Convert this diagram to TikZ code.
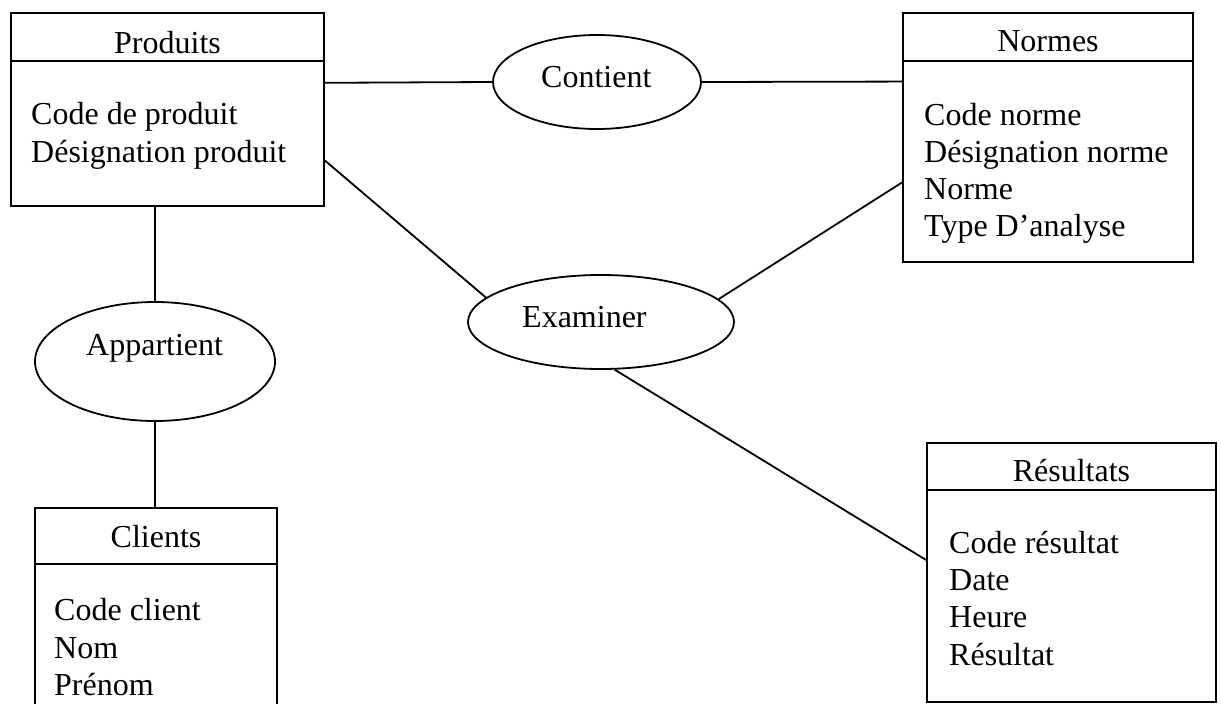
\documentclass[tikz,border=0pt]{standalone}
\usepackage{fontspec}
\setmainfont{Liberation Serif}
\usetikzlibrary{shapes.geometric,calc}

\tikzset{
  entity/.style={draw, line width=1.8pt, rectangle, inner sep=0pt},
  relation/.style={draw, line width=1.8pt, ellipse, inner sep=0pt},
  txt/.style={inner sep=0pt, anchor=base west, font=\fontsize{32pt}{37pt}\selectfont},
  title/.style={inner sep=0pt, anchor=base, font=\fontsize{32pt}{37pt}\selectfont},
  link/.style={line width=1.8pt},
  sep/.style={line width=1.8pt}
}

\begin{document}
\begin{tikzpicture}[x=1pt, y=-1pt]
  \useasboundingbox (0,0) rectangle (1221,704);
  \clip (0,0) rectangle (1221,704);
  \fill[white] (0,0) rectangle (1221,704);

  % --- Produits ---
  \node[entity, minimum width=313pt, minimum height=193pt] (produits) at (167.5,109.5) {};
  \draw[sep] (produits.west |- 0,61) -- (produits.east |- 0,61);
  \node[title] (produitsT) at (167.5,53) {Produits};
  \node[txt] (p1) at (31,124) {Code de produit};
  \node[txt] (p2) at (31,162) {Désignation produit};

  % --- Normes ---
  \node[entity, minimum width=290pt, minimum height=249pt] (normes) at (1048,137.5) {};
  \draw[sep] (normes.west |- 0,61) -- (normes.east |- 0,61);
  \node[title] (normesT) at (1048,51) {Normes};
  \node[txt] (n1) at (924,125) {Code norme};
  \node[txt] (n2) at (924,162) {Désignation norme};
  \node[txt] (n3) at (924,199) {Norme};
  \node[txt] (n4) at (924,236) {Type D’analyse};

  % --- Clients (runs past the lower edge) ---
  \node[entity, minimum width=242pt, minimum height=232pt] (clients) at (156,624) {};
  \draw[sep] (clients.west |- 0,564) -- (clients.east |- 0,564);
  \node[title] (clientsT) at (156,547) {Clients};
  \node[txt] (c1) at (54,620) {Code client};
  \node[txt] (c2) at (54,658) {Nom};
  \node[txt] (c3) at (54,695) {Prénom};

  % --- Résultats ---
  \node[entity, minimum width=289pt, minimum height=259pt] (resultats) at (1071.5,572.5) {};
  \draw[sep] (resultats.west |- 0,490) -- (resultats.east |- 0,490);
  \node[title] (resultatsT) at (1071.5,481) {Résultats};
  \node[txt] (r1) at (949,553) {Code résultat};
  \node[txt] (r2) at (949,590) {Date};
  \node[txt] (r3) at (949,627) {Heure};
  \node[txt] (r4) at (949,665) {Résultat};

  % --- Relations ---
  \node[relation, minimum width=208pt, minimum height=94pt] (contient) at (597,82) {};
  \node[txt] (contientT) at (541,87) {Contient};

  \node[relation, minimum width=266pt, minimum height=94pt] (examiner) at (601,322) {};
  \node[txt] (examinerT) at (522,327) {Examiner};

  \node[relation, minimum width=240pt, minimum height=119pt] (appartient) at (155,361.5) {};
  \node[txt] (appartientT) at (86,355) {Appartient};

  % --- Links ---
  \draw[link] ($(produits.north east)!0.363!(produits.south east)$) -- (contient.west);
  \draw[link] (contient.east) -- ($(normes.north west)!0.277!(normes.south west)$);
  \draw[link] ($(produits.north east)!0.762!(produits.south east)$) -- (examiner.168.6);
  \draw[link] (examiner.11.7) -- ($(normes.north west)!0.679!(normes.south west)$);
  \draw[link] (examiner.286.3) -- ($(resultats.north west)!0.452!(resultats.south west)$);
  \draw[link] (appartient.north |- produits.south) -- (appartient.north);
  \draw[link] (appartient.south) -- (appartient.south |- clients.north);
\end{tikzpicture}
\end{document}
